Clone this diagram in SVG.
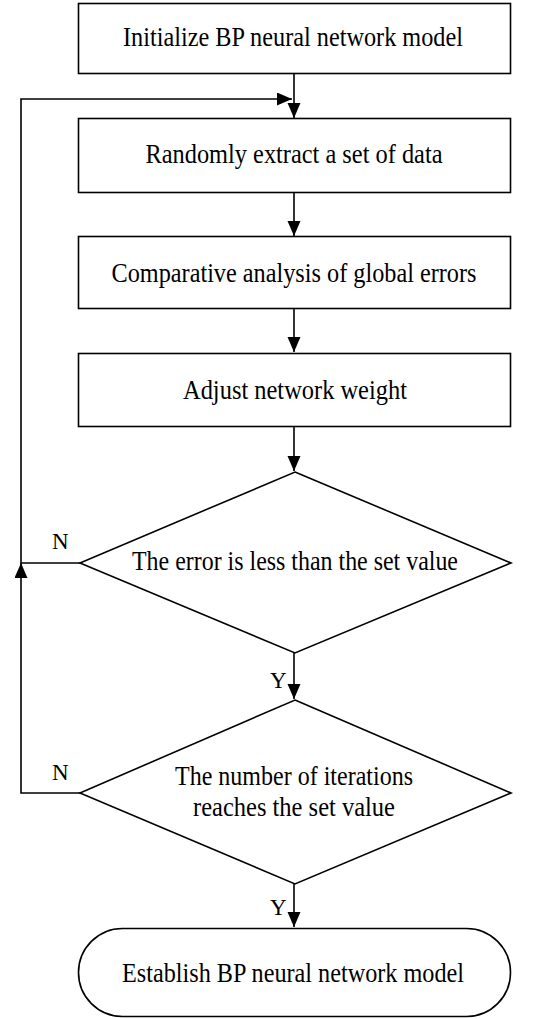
<svg xmlns="http://www.w3.org/2000/svg" width="544" height="1019" viewBox="0 0 544 1019">
<style>
.box{fill:#fff;stroke:#000;stroke-width:1.6}
.t{font-family:"Liberation Serif","Times New Roman",serif;font-size:27px;fill:#000;text-anchor:middle}
.l{font-family:"Liberation Serif","Times New Roman",serif;font-size:23px;fill:#000}
.c{fill:none;stroke:#000;stroke-width:1.6}
</style>
<defs>
<marker id="ah" markerUnits="userSpaceOnUse" markerWidth="16" markerHeight="14" refX="15" refY="6.5" orient="auto">
<path d="M0,0 L15,6.5 L0,13 z" fill="#000"/>
</marker>
</defs>
<rect width="544" height="1019" fill="#fff"/>
<g id="connectors">
<path class="c" d="M294,73 V118" marker-end="url(#ah)"/>
<path class="c" d="M294,193 V236" marker-end="url(#ah)"/>
<path class="c" d="M294,309 V352" marker-end="url(#ah)"/>
<path class="c" d="M294,427 V471" marker-end="url(#ah)"/>
<path class="c" d="M294,653 V699" marker-end="url(#ah)"/>
<path class="c" d="M294,884 V927" marker-end="url(#ah)"/>
<path class="c" d="M80,563 H21 V99 H292" marker-end="url(#ah)"/>
<path class="c" d="M80,793 H21 V563" marker-end="url(#ah)"/>
<text class="l" x="52" y="549">N</text>
<text class="l" x="52" y="780">N</text>
<text class="l" x="270" y="688">Y</text>
<text class="l" x="270" y="915">Y</text>
</g>
<g id="n1">
<rect class="box" x="78.5" y="3.5" width="432" height="70"/>
<text class="t" x="293" y="46" textLength="340" lengthAdjust="spacingAndGlyphs">Initialize BP neural network model</text>
</g>
<g id="n2">
<rect class="box" x="78.5" y="118.5" width="432" height="74"/>
<text class="t" x="294" y="163" textLength="297" lengthAdjust="spacingAndGlyphs">Randomly extract a set of data</text>
</g>
<g id="n3">
<rect class="box" x="78.5" y="236.5" width="432" height="72"/>
<text class="t" x="294" y="282" textLength="365" lengthAdjust="spacingAndGlyphs">Comparative analysis of global errors</text>
</g>
<g id="n4">
<rect class="box" x="78.5" y="353.5" width="432" height="73"/>
<text class="t" x="295" y="399" textLength="224" lengthAdjust="spacingAndGlyphs">Adjust network weight</text>
</g>
<g id="n5">
<polygon class="box" points="295,472 511,563 295,653 80,563"/>
<text class="t" x="295" y="570" textLength="326" lengthAdjust="spacingAndGlyphs">The error is less than the set value</text>
</g>
<g id="n6">
<polygon class="box" points="295,700 511,793 295,884 80,793"/>
<text class="t" x="294" y="785" textLength="238" lengthAdjust="spacingAndGlyphs">The number of iterations</text>
<text class="t" x="294" y="816" textLength="202" lengthAdjust="spacingAndGlyphs">reaches the set value</text>
</g>
<g id="n7">
<rect class="box" x="78.5" y="928.5" width="432" height="88" rx="44" ry="44"/>
<text class="t" x="293" y="982" textLength="342" lengthAdjust="spacingAndGlyphs">Establish BP neural network model</text>
</g>
</svg>
